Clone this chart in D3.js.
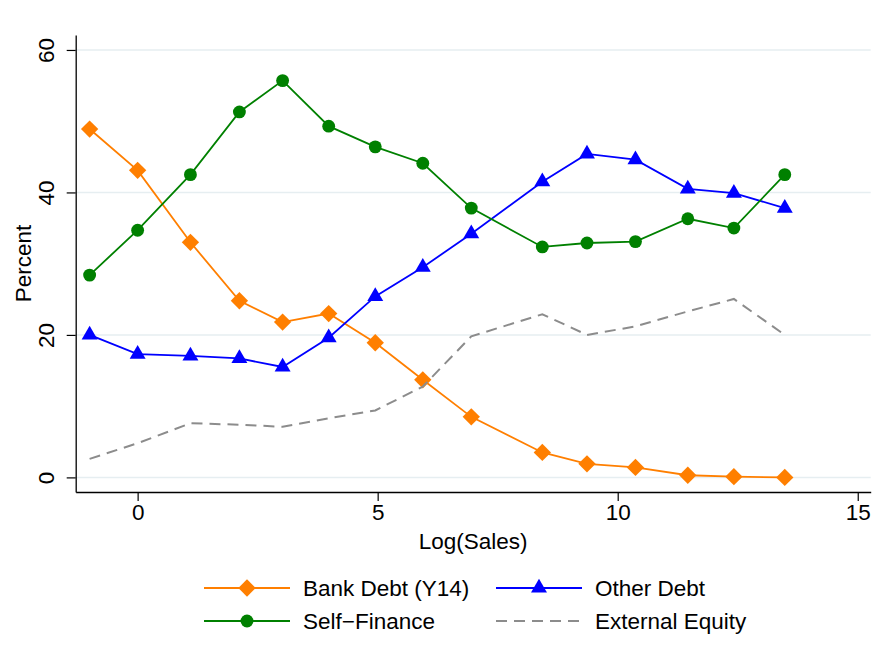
<!DOCTYPE html>
<html>
<head>
<meta charset="utf-8">
<script src="https://cdn.jsdelivr.net/npm/d3@7"></script>
<style>
  body { margin: 0; background: #fff; }
  text { font-family: "Liberation Sans", Arial, Helvetica, sans-serif; }
</style>
</head>
<body>
<div id="chart"></div>
<script>
// values
const logSales = [-1, 0, 1.1, 2.12, 3.02, 3.98, 4.95, 5.94, 6.95, 8.43, 9.36, 10.37, 11.46, 12.42, 13.48];
const bankDebt = [48.9, 43.1, 33.0, 24.8, 21.8, 23.0, 18.9, 13.7, 8.5, 3.5, 1.9, 1.4, 0.3, 0.1, 0.0];
const otherDebt = [20.0, 17.3, 17.05, 16.7, 15.5, 19.6, 25.4, 29.5, 34.2, 41.5, 45.4, 44.6, 40.5, 39.9, 37.8];
const selfFinance = [28.4, 34.7, 42.5, 51.3, 55.7, 49.3, 46.4, 44.1, 37.8, 32.35, 32.9, 33.1, 36.3, 35.0, 42.5];
const externalEquity = [2.6, 4.8, 7.6, 7.4, 7.1, 8.3, 9.4, 12.75, 19.8, 22.9, 20.0, 21.2, 23.3, 25.05, 20.0];

const xTicks = [0, 5, 10, 15];
const yTicks = [0, 20, 40, 60];

const series = [
  { name: "Bank Debt (Y14)", values: bankDebt, color: "#ff7f00", marker: "diamond", dash: null },
  { name: "Other Debt", values: otherDebt, color: "#0000ff", marker: "triangle", dash: null },
  { name: "Self\u2212Finance", values: selfFinance, color: "#008000", marker: "circle", dash: null },
  { name: "External Equity", values: externalEquity, color: "#8c8c8c", marker: null, dash: "11,7" }
];

const width = 889, height = 668;
const svg = d3.select("#chart").append("svg")
  .attr("width", width)
  .attr("height", height);

const x = d3.scaleLinear().domain([-1.29, 15.27]).range([75.7, 870.7]);
const y = d3.scaleLinear().domain([-2.05, 62.1]).range([492, 35]);

// grid lines
svg.append("g").selectAll("line")
  .data(yTicks)
  .enter().append("line")
  .attr("x1", x.range()[0])
  .attr("x2", x.range()[1])
  .attr("y1", d => y(d))
  .attr("y2", d => y(d))
  .attr("stroke", "#e6eef1")
  .attr("stroke-width", 1.5);

// axes
const yAxis = svg.append("g")
  .attr("transform", `translate(${x.range()[0]},0)`)
  .call(d3.axisLeft(y).tickValues(yTicks).tickSize(9).tickSizeOuter(0).tickFormat(d3.format("d")));
yAxis.selectAll("text")
  .attr("transform", "rotate(-90)")
  .attr("x", 0)
  .attr("y", -22)
  .attr("dy", 0)
  .attr("text-anchor", "middle");

const xAxis = svg.append("g")
  .attr("transform", `translate(0,${y.range()[0]})`)
  .call(d3.axisBottom(x).tickValues(xTicks).tickSize(9).tickSizeOuter(0).tickFormat(d3.format("d")));
xAxis.selectAll("text").attr("y", 12).attr("dy", "0.71em");

svg.selectAll(".domain").attr("stroke", "#000").attr("stroke-width", 1.3);
svg.selectAll(".tick line").attr("stroke", "#000").attr("stroke-width", 1.2);
svg.selectAll(".tick text").attr("fill", "#000").style("font-size", "22.5px")
  .style("font-family", "'Liberation Sans', Arial, sans-serif");

// axis titles
svg.append("text")
  .attr("x", (x.range()[0] + x.range()[1]) / 2)
  .attr("y", 549)
  .attr("text-anchor", "middle")
  .style("font-size", "22.5px")
  .text("Log(Sales)");

svg.append("text")
  .attr("transform", `translate(31,${(y.range()[0] + y.range()[1]) / 2}) rotate(-90)`)
  .attr("text-anchor", "middle")
  .style("font-size", "22.5px")
  .text("Percent");

function symbolFor(kind) {
  if (kind === "diamond") return d3.symbol().type(d3.symbolSquare).size(150)();
  if (kind === "triangle") return d3.symbol().type(d3.symbolTriangle).size(110)();
  return d3.symbol().type(d3.symbolCircle).size(130)();
}

const line = d3.line()
  .x((d, i) => x(logSales[i]))
  .y(d => y(d));

series.forEach(s => {
  const g = svg.append("g");
  g.append("path")
    .datum(s.values)
    .attr("d", line)
    .attr("fill", "none")
    .attr("stroke", s.color)
    .attr("stroke-width", s.dash ? 2 : 1.8)
    .attr("stroke-dasharray", s.dash);
  if (s.marker) {
    g.selectAll("path.mk")
      .data(s.values)
      .enter().append("path")
      .attr("class", "mk")
      .attr("d", symbolFor(s.marker))
      .attr("transform", (d, i) => `translate(${x(logSales[i])},${y(d)})` + (s.marker === "diamond" ? " rotate(45)" : ""))
      .attr("fill", s.color);
  }
});

// legend, two columns
const legendCols = [204, 496];
const legendRows = [588, 621];
series.forEach((s, i) => {
  const lx = legendCols[i % 2], ly = legendRows[Math.floor(i / 2)];
  const g = svg.append("g").attr("transform", `translate(${lx},${ly})`);
  g.append("line")
    .attr("x1", 0).attr("x2", 86)
    .attr("y1", 0).attr("y2", 0)
    .attr("stroke", s.color)
    .attr("stroke-width", 2)
    .attr("stroke-dasharray", s.dash);
  if (s.marker) {
    g.append("path")
      .attr("d", symbolFor(s.marker))
      .attr("transform", "translate(43,0)" + (s.marker === "diamond" ? " rotate(45)" : ""))
      .attr("fill", s.color);
  }
  g.append("text")
    .attr("x", 99)
    .attr("y", 8)
    .style("font-size", "22.5px")
    .text(s.name);
});
</script>
</body>
</html>
